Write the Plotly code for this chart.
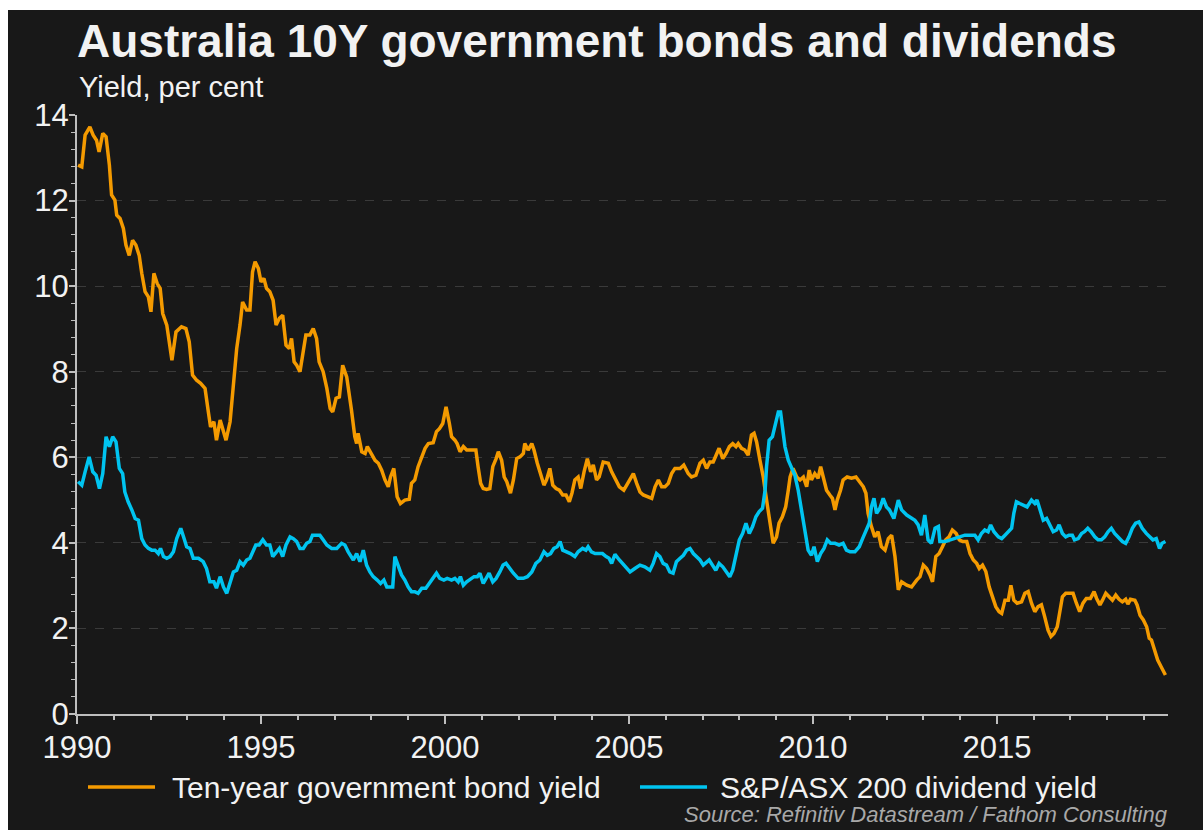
import plotly.graph_objects as go

# ---------------- data ----------------
bond_year = [
    1990.03, 1990.13, 1990.22, 1990.35, 1990.44, 1990.53, 1990.60, 1990.70, 1990.79, 1990.88, 1990.94,
    1991.03, 1991.08, 1991.17, 1991.26, 1991.33, 1991.42, 1991.51, 1991.60, 1991.69, 1991.76, 1991.85, 1991.94,
    1992.01, 1992.09, 1992.18, 1992.26, 1992.33, 1992.44, 1992.51, 1992.58, 1992.69, 1992.84, 1992.96,
    1993.05, 1993.14, 1993.25, 1993.36, 1993.48, 1993.57, 1993.63, 1993.72, 1993.79, 1993.89, 1993.96,
    1994.05, 1994.16, 1994.25, 1994.34, 1994.43, 1994.50, 1994.61, 1994.70, 1994.77, 1994.84, 1994.93,
    1995.00, 1995.08, 1995.15, 1995.24, 1995.33, 1995.41, 1995.50, 1995.59, 1995.68, 1995.77, 1995.83, 1995.90, 1995.97,
    1996.06, 1996.15, 1996.22, 1996.33, 1996.42, 1996.51, 1996.58, 1996.69, 1996.79, 1996.88, 1996.95,
    1997.04, 1997.13, 1997.22, 1997.33, 1997.46, 1997.55, 1997.60, 1997.64, 1997.74, 1997.83, 1997.89,
    1998.01, 1998.10, 1998.19, 1998.28, 1998.37, 1998.46, 1998.52, 1998.61, 1998.70, 1998.79, 1998.91,
    1999.03, 1999.09, 1999.18, 1999.27, 1999.37, 1999.46, 1999.55, 1999.68, 1999.77, 1999.85, 1999.94,
    2000.03, 2000.12, 2000.18, 2000.27, 2000.33, 2000.41, 2000.50, 2000.59, 2000.73, 2000.84, 2000.90, 2000.97,
    2001.04, 2001.13, 2001.22, 2001.30, 2001.39, 2001.45, 2001.54, 2001.61, 2001.68, 2001.78, 2001.86, 2001.95,
    2002.04, 2002.13, 2002.17, 2002.26, 2002.36, 2002.42, 2002.51, 2002.60, 2002.69, 2002.76, 2002.85, 2002.93,
    2003.02, 2003.11, 2003.20, 2003.29, 2003.38, 2003.45, 2003.53, 2003.62, 2003.69, 2003.78, 2003.87, 2003.96,
    2004.03, 2004.12, 2004.19, 2004.30, 2004.44, 2004.53, 2004.62, 2004.74, 2004.86, 2004.98,
    2005.12, 2005.21, 2005.30, 2005.39, 2005.50, 2005.62, 2005.71, 2005.80, 2005.89, 2005.98,
    2006.07, 2006.16, 2006.25, 2006.39, 2006.49, 2006.61, 2006.70, 2006.82, 2006.93,
    2007.02, 2007.11, 2007.20, 2007.29, 2007.38, 2007.45, 2007.55, 2007.64, 2007.73, 2007.82, 2007.91, 2007.97,
    2008.06, 2008.15, 2008.24, 2008.33, 2008.40, 2008.47, 2008.56, 2008.65, 2008.74, 2008.83, 2008.92,
    2009.01, 2009.08, 2009.17, 2009.26, 2009.33, 2009.38, 2009.46, 2009.56, 2009.65, 2009.74, 2009.83, 2009.90, 2009.96,
    2010.05, 2010.14, 2010.21, 2010.28, 2010.37, 2010.46, 2010.53, 2010.60, 2010.66, 2010.75, 2010.82, 2010.93,
    2011.05, 2011.17, 2011.26, 2011.37, 2011.44, 2011.50, 2011.59, 2011.68, 2011.77, 2011.86, 2011.96,
    2012.05, 2012.14, 2012.23, 2012.32, 2012.41, 2012.55, 2012.68, 2012.82, 2012.91,
    2013.00, 2013.09, 2013.18, 2013.25, 2013.34, 2013.43, 2013.52, 2013.61, 2013.70, 2013.79, 2013.89, 2013.98,
    2014.07, 2014.18, 2014.27, 2014.36, 2014.45, 2014.52, 2014.61, 2014.70, 2014.79, 2014.88, 2014.97,
    2015.06, 2015.13, 2015.22, 2015.31, 2015.38, 2015.46, 2015.55, 2015.67, 2015.76, 2015.85, 2015.94,
    2016.03, 2016.12, 2016.21, 2016.30, 2016.39, 2016.47, 2016.55, 2016.64, 2016.71, 2016.78, 2016.87, 2016.98,
    2017.07, 2017.16, 2017.25, 2017.34, 2017.43, 2017.54, 2017.64, 2017.71, 2017.80, 2017.87, 2017.96,
    2018.05, 2018.14, 2018.23, 2018.32, 2018.41, 2018.50, 2018.56, 2018.63, 2018.75, 2018.81, 2018.89, 2018.98,
    2019.07, 2019.14, 2019.20, 2019.28, 2019.37, 2019.46, 2019.58,
]
bond_yield = [
    12.83, 12.79, 13.53, 13.72, 13.53, 13.41, 13.14, 13.57, 13.49, 12.83, 12.13,
    12.01, 11.66, 11.58, 11.35, 10.96, 10.72, 11.07, 10.96, 10.72, 10.30, 9.87, 9.75,
    9.40, 10.30, 10.06, 9.95, 9.36, 9.09, 8.62, 8.27, 8.93, 9.05, 9.01,
    8.70, 7.92, 7.80, 7.73, 7.61, 7.06, 6.71, 6.83, 6.40, 6.87, 6.64,
    6.40, 6.83, 7.61, 8.54, 9.09, 9.63, 9.44, 9.44, 10.33, 10.57, 10.41,
    10.10, 10.18, 9.95, 9.87, 9.67, 9.09, 9.25, 9.32, 8.62, 8.54, 8.78, 8.23, 8.15,
    8.00, 8.47, 8.86, 8.86, 9.01, 8.78, 8.23, 8.00, 7.61, 7.14, 7.06,
    7.38, 7.41, 8.15, 7.88, 7.10, 6.48, 6.32, 6.56, 6.13, 6.09, 6.25,
    6.05, 5.93, 5.86, 5.70, 5.47, 5.31, 5.54, 5.74, 5.08, 4.92, 5.00,
    5.02, 5.39, 5.47, 5.78, 6.01, 6.21, 6.32, 6.34, 6.60, 6.67, 6.79,
    7.18, 6.79, 6.48, 6.40, 6.32, 6.13, 6.25, 6.17, 6.17, 6.17, 5.78, 5.39,
    5.27, 5.25, 5.27, 5.78, 5.97, 6.13, 5.93, 5.54, 5.43, 5.16, 5.47, 5.97,
    6.01, 6.09, 6.32, 6.17, 6.32, 6.17, 5.86, 5.62, 5.35, 5.47, 5.74, 5.35,
    5.27, 5.23, 5.12, 5.12, 4.96, 5.16, 5.47, 5.54, 5.27, 5.66, 5.97, 5.66,
    5.82, 5.47, 5.54, 5.89, 5.86, 5.66, 5.50, 5.31, 5.23, 5.43,
    5.62, 5.39, 5.19, 5.12, 5.08, 5.04, 5.31, 5.47, 5.31, 5.31,
    5.39, 5.62, 5.74, 5.74, 5.82, 5.62, 5.54, 5.58, 5.86,
    5.93, 5.74, 5.89, 5.89, 6.09, 6.21, 5.97, 6.09, 6.25, 6.32, 6.25, 6.32,
    6.21, 6.17, 6.05, 6.52, 6.56, 6.36, 5.93, 5.54, 5.00, 4.46, 3.99,
    4.14, 4.46, 4.61, 4.84, 5.23, 5.54, 5.74, 5.54, 5.47, 5.54, 5.31, 5.70, 5.47,
    5.62, 5.51, 5.78, 5.54, 5.23, 5.12, 5.04, 4.77, 5.00, 5.23, 5.47, 5.54,
    5.51, 5.54, 5.43, 5.31, 5.16, 4.69, 4.38, 4.14, 4.26, 3.91, 3.83,
    4.10, 4.18, 3.68, 2.90, 3.09, 3.01, 2.97, 3.13, 3.21,
    3.48, 3.40, 3.25, 3.09, 3.68, 3.75, 3.91, 4.07, 4.14, 4.30, 4.22, 4.07,
    4.03, 4.03, 3.75, 3.60, 3.52, 3.40, 3.48, 3.33, 2.97, 2.74, 2.51,
    2.39, 2.35, 2.66, 2.66, 3.01, 2.66, 2.59, 2.62, 2.82, 2.86, 2.59,
    2.39, 2.51, 2.55, 2.27, 1.96, 1.81, 1.88, 2.04, 2.35, 2.74, 2.82, 2.82,
    2.82, 2.59, 2.39, 2.59, 2.70, 2.70, 2.86, 2.70, 2.55, 2.66, 2.82,
    2.74, 2.66, 2.78, 2.68, 2.62, 2.68, 2.57, 2.68, 2.66, 2.55, 2.31, 2.20,
    2.04, 1.77, 1.73, 1.50, 1.26, 1.11, 0.91,
]

div_year = [
    1990.03, 1990.13, 1990.22, 1990.33, 1990.43, 1990.52, 1990.61, 1990.70, 1990.79, 1990.88, 1990.97,
    1991.06, 1991.15, 1991.24, 1991.30, 1991.39, 1991.49, 1991.58, 1991.67, 1991.76, 1991.85, 1991.94,
    1992.03, 1992.12, 1992.21, 1992.27, 1992.35, 1992.44, 1992.53, 1992.62, 1992.71, 1992.82, 1992.91, 1992.98,
    1993.07, 1993.16, 1993.30, 1993.43, 1993.52, 1993.61, 1993.72, 1993.79, 1993.89, 1993.98,
    1994.07, 1994.16, 1994.25, 1994.34, 1994.43, 1994.52, 1994.61, 1994.70, 1994.79, 1994.86, 1994.95,
    1995.05, 1995.15, 1995.24, 1995.32, 1995.41, 1995.50, 1995.59, 1995.68, 1995.79, 1995.88, 1995.97,
    1996.06, 1996.15, 1996.24, 1996.33, 1996.40, 1996.51, 1996.60, 1996.69, 1996.79, 1996.92,
    1997.06, 1997.19, 1997.28, 1997.37, 1997.51, 1997.60, 1997.69, 1997.78, 1997.87, 1997.96,
    1998.05, 1998.16, 1998.25, 1998.34, 1998.42, 1998.51, 1998.58, 1998.64, 1998.73, 1998.82, 1998.91,
    1999.00, 1999.09, 1999.18, 1999.27, 1999.37, 1999.48, 1999.57, 1999.66, 1999.77, 1999.86, 1999.97,
    2000.06, 2000.18, 2000.27, 2000.36, 2000.42, 2000.50, 2000.59, 2000.70, 2000.79, 2000.88, 2000.95,
    2001.04, 2001.13, 2001.20, 2001.30, 2001.39, 2001.49, 2001.58, 2001.66, 2001.75, 2001.86, 2001.99,
    2002.13, 2002.24, 2002.36, 2002.47, 2002.58, 2002.69, 2002.78, 2002.87, 2002.96,
    2003.05, 2003.13, 2003.20, 2003.31, 2003.41, 2003.53, 2003.62, 2003.74, 2003.83, 2003.89, 2003.98,
    2004.08, 2004.17, 2004.28, 2004.38, 2004.46, 2004.53, 2004.62, 2004.74, 2004.89,
    2005.03, 2005.16, 2005.30, 2005.43, 2005.57, 2005.66, 2005.75, 2005.84, 2005.93,
    2006.02, 2006.11, 2006.20, 2006.29, 2006.39, 2006.48, 2006.57, 2006.66, 2006.75, 2006.84, 2006.93,
    2007.02, 2007.11, 2007.18, 2007.27, 2007.36, 2007.45, 2007.55, 2007.65, 2007.74, 2007.82, 2007.91,
    2008.00, 2008.09, 2008.18, 2008.27, 2008.36, 2008.45, 2008.54, 2008.63, 2008.70, 2008.74, 2008.81, 2008.90, 2008.97,
    2009.06, 2009.12, 2009.18, 2009.24, 2009.33, 2009.42, 2009.51, 2009.60, 2009.69, 2009.78, 2009.87, 2009.96,
    2010.03, 2010.12, 2010.21, 2010.30, 2010.39, 2010.48, 2010.60, 2010.71, 2010.82, 2010.91,
    2011.01, 2011.14, 2011.26, 2011.35, 2011.44, 2011.53, 2011.59, 2011.66, 2011.73, 2011.82, 2011.91,
    2012.00, 2012.08, 2012.20, 2012.32, 2012.41, 2012.55, 2012.68, 2012.77, 2012.86, 2012.95,
    2013.04, 2013.13, 2013.22, 2013.32, 2013.41, 2013.45, 2013.59, 2013.72, 2013.86, 2013.99,
    2014.13, 2014.27, 2014.40, 2014.49, 2014.58, 2014.67, 2014.76, 2014.83, 2014.92,
    2015.04, 2015.13, 2015.22, 2015.31, 2015.40, 2015.46, 2015.53, 2015.62, 2015.73, 2015.82, 2015.94,
    2016.03, 2016.09, 2016.17, 2016.26, 2016.35, 2016.44, 2016.53, 2016.62, 2016.69, 2016.78, 2016.87, 2016.96,
    2017.05, 2017.11, 2017.21, 2017.30, 2017.38, 2017.47, 2017.56, 2017.66, 2017.75, 2017.84, 2017.93,
    2018.02, 2018.11, 2018.20, 2018.29, 2018.41, 2018.50, 2018.59, 2018.68, 2018.77, 2018.86, 2018.95,
    2019.06, 2019.17, 2019.24, 2019.33, 2019.42, 2019.49, 2019.58,
]
div_yield = [
    5.43, 5.35, 5.66, 6.01, 5.66, 5.58, 5.27, 5.62, 6.48, 6.25, 6.48,
    6.36, 5.74, 5.62, 5.19, 4.96, 4.77, 4.57, 4.53, 4.10, 3.95, 3.87,
    3.83, 3.83, 3.75, 3.87, 3.68, 3.64, 3.68, 3.79, 4.10, 4.34, 4.10, 3.91,
    3.87, 3.64, 3.64, 3.56, 3.40, 3.09, 3.09, 2.94, 3.21, 2.97,
    2.82, 3.09, 3.32, 3.36, 3.56, 3.48, 3.60, 3.64, 3.79, 3.95, 3.95,
    4.07, 3.95, 3.95, 3.68, 3.79, 3.87, 3.68, 3.95, 4.14, 4.10, 4.03,
    3.87, 3.87, 3.99, 4.03, 4.18, 4.18, 4.18, 4.07, 3.95, 3.87,
    3.87, 3.99, 3.95, 3.79, 3.60, 3.75, 3.56, 3.83, 3.48, 3.32,
    3.21, 3.13, 3.05, 3.13, 2.97, 2.97, 2.97, 3.68, 3.44, 3.25, 3.13,
    2.97, 2.86, 2.86, 2.82, 2.94, 2.94, 3.05, 3.17, 3.29, 3.17, 3.13,
    3.17, 3.13, 3.17, 3.09, 3.21, 3.01, 3.09, 3.17, 3.21, 3.21, 3.29,
    3.05, 3.17, 3.29, 3.09, 3.17, 3.32, 3.48, 3.52, 3.40, 3.29, 3.17,
    3.17, 3.21, 3.32, 3.52, 3.60, 3.79, 3.71, 3.75, 3.87,
    3.91, 4.03, 3.83, 3.79, 3.75, 3.68, 3.79, 3.87, 3.83, 3.91, 3.79,
    3.75, 3.75, 3.75, 3.68, 3.64, 3.52, 3.73, 3.60, 3.44,
    3.32, 3.40, 3.48, 3.44, 3.36, 3.52, 3.75, 3.68, 3.52,
    3.48, 3.32, 3.29, 3.56, 3.64, 3.71, 3.83, 3.87, 3.75, 3.68, 3.60,
    3.48, 3.56, 3.60, 3.48, 3.36, 3.52, 3.44, 3.32, 3.21, 3.36, 3.75,
    4.07, 4.22, 4.46, 4.22, 4.38, 4.61, 4.73, 4.81, 5.23, 5.78, 6.40, 6.48, 6.71,
    7.06, 7.06, 6.71, 6.25, 5.93, 5.74, 5.58, 5.23, 4.77, 4.30, 3.83, 3.71,
    3.91, 3.56, 3.75, 3.87, 4.07, 3.99, 3.99, 3.95, 3.99, 3.83,
    3.79, 3.79, 3.91, 4.10, 4.26, 4.46, 4.84, 5.04, 4.69, 4.81, 5.04,
    4.84, 4.77, 4.57, 5.00, 4.77, 4.65, 4.57, 4.53, 4.42, 4.18,
    4.65, 4.07, 3.99, 4.34, 4.38, 4.03, 4.03, 4.07, 4.10, 4.14,
    4.18, 4.18, 4.18, 4.07, 4.22, 4.30, 4.26, 4.42, 4.26,
    4.14, 4.10, 4.18, 4.26, 4.34, 4.69, 4.96, 4.92, 4.88, 4.84, 5.00,
    4.92, 5.00, 4.77, 4.53, 4.57, 4.42, 4.26, 4.30, 4.42, 4.22, 4.14, 4.18,
    4.18, 4.07, 4.10, 4.22, 4.26, 4.34, 4.26, 4.14, 4.07, 4.07, 4.14,
    4.26, 4.34, 4.22, 4.14, 4.03, 3.99, 4.14, 4.34, 4.46, 4.49, 4.34,
    4.22, 4.14, 4.07, 4.10, 3.87, 3.99, 4.03,
]

series_names = ["Ten-year government bond yield", "S&P/ASX 200 dividend yield"]
title_text = "Australia 10Y government bonds and dividends"
subtitle_text = "Yield, per cent"
source_text = "Source: Refinitiv Datastream / Fathom Consulting"
year_ticks = [1990, 1995, 2000, 2005, 2010, 2015]
y_ticks = [0, 2, 4, 6, 8, 10, 12, 14]

# ---------------- style ----------------
BG = "#181818"
ORANGE = "#F49A00"
BLUE = "#00C4F0"
TXT = "#F2F2F2"
AXIS = "#BEBEBE"
GRID = "#3A3A3A"
FONT = "Liberation Sans, Arial, sans-serif"

W, H = 1203, 830
L, R, T, B = 77, 35, 115, 116
PW, PH = W - L - R, H - T - B


def px_x(p):
    return (p - L) / PW


def px_y(p):
    return (H - B - p) / PH


fig = go.Figure()
fig.add_trace(go.Scatter(x=bond_year, y=bond_yield, mode="lines", name=series_names[0],
                         line=dict(color=ORANGE, width=3.5), showlegend=False))
fig.add_trace(go.Scatter(x=div_year, y=div_yield, mode="lines", name=series_names[1],
                         line=dict(color=BLUE, width=3.5), showlegend=False))

shapes = [
    # white page margin on the top and left of the reference picture
    dict(type="rect", xref="paper", yref="paper", x0=px_x(-5), x1=px_x(8), y0=px_y(H + 5), y1=px_y(-5),
         fillcolor="white", line=dict(width=0), layer="below"),
    dict(type="rect", xref="paper", yref="paper", x0=px_x(-5), x1=px_x(W + 5), y0=px_y(10), y1=px_y(-5),
         fillcolor="white", line=dict(width=0), layer="below"),
    # legend samples
    dict(type="line", xref="paper", yref="paper", x0=px_x(88), x1=px_x(155), y0=px_y(787), y1=px_y(787),
         line=dict(color=ORANGE, width=3.5)),
    dict(type="line", xref="paper", yref="paper", x0=px_x(640), x1=px_x(707), y0=px_y(787), y1=px_y(787),
         line=dict(color=BLUE, width=3.5)),
]

annotations = [
    dict(text=f"<b>{title_text}</b>", xref="paper", yref="paper", x=px_x(75), y=px_y(41),
         xanchor="left", yanchor="middle", showarrow=False, font=dict(size=46, color=TXT, family=FONT)),
    dict(text=subtitle_text, xref="paper", yref="paper", x=px_x(77), y=px_y(87),
         xanchor="left", yanchor="middle", showarrow=False, font=dict(size=29, color=TXT, family=FONT)),
    dict(text=series_names[0], xref="paper", yref="paper", x=px_x(170), y=px_y(787),
         xanchor="left", yanchor="middle", showarrow=False, font=dict(size=30, color=TXT, family=FONT)),
    dict(text=series_names[1], xref="paper", yref="paper", x=px_x(718), y=px_y(787),
         xanchor="left", yanchor="middle", showarrow=False, font=dict(size=30, color=TXT, family=FONT)),
    dict(text=f"<i>{source_text}</i>", xref="paper", yref="paper", x=px_x(1170), y=px_y(814),
         xanchor="right", yanchor="middle", showarrow=False, font=dict(size=22, color="#A8A8A8", family=FONT)),
]

fig.update_layout(
    width=W, height=H,
    margin=dict(l=L, r=R, t=T, b=B, pad=0),
    paper_bgcolor=BG, plot_bgcolor=BG,
    font=dict(family=FONT, color=TXT, size=30),
    showlegend=False,
    shapes=shapes,
    annotations=annotations,
    xaxis=dict(
        range=[1990, 2019.65], tickmode="array", tickvals=year_ticks,
        ticktext=[str(v) for v in year_ticks],
        showgrid=False, zeroline=False,
        showline=True, linecolor=AXIS, linewidth=2,
        ticks="outside", ticklen=8, tickwidth=2, tickcolor=AXIS,
        tickfont=dict(size=31, color=TXT, family=FONT),
        ticklabelstandoff=-3,
        minor=dict(dtick=1, tick0=1990, ticks="outside", ticklen=4, tickwidth=2, tickcolor=AXIS, showgrid=False),
    ),
    yaxis=dict(
        range=[0, 14], tickmode="array", tickvals=y_ticks,
        showgrid=True, gridcolor=GRID, gridwidth=1, griddash="dash",
        zeroline=False,
        showline=True, linecolor=AXIS, linewidth=2,
        ticks="outside", ticklen=6, tickwidth=2, tickcolor=AXIS,
        tickfont=dict(size=31, color=TXT, family=FONT),
        ticklabelstandoff=-6,
        minor=dict(dtick=0.4, tick0=0, ticks="outside", ticklen=4, tickwidth=1, tickcolor=AXIS, showgrid=False),
    ),
)

fig.write_html("out.html")
